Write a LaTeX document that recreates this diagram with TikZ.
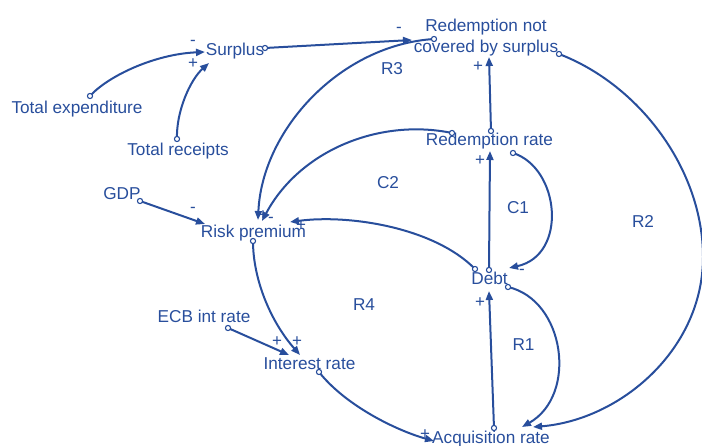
\documentclass[tikz,border=0pt]{standalone}
\usepackage{fontspec}
\setmainfont{Liberation Sans}
\usetikzlibrary{arrows.meta}
\definecolor{vblue}{RGB}{40,78,156}
\begin{document}
\begin{tikzpicture}[x=1pt,y=-1pt,
  var/.style={anchor=base,inner sep=0pt,text=vblue,align=center,
    font=\fontsize{17.2}{21}\selectfont},
  looplabel/.style={var},
  sign/.style={inner sep=0pt,text=vblue,font=\fontsize{17}{20}\selectfont},
  link/.style={draw=vblue,line width=2pt,
    -{Triangle[length=9pt,width=7pt]}},
  tailmark/.style={draw=vblue,fill=white,line width=1.1pt}
]
\useasboundingbox (0,0) rectangle (702,446);

% variables
\node[var] (te)   at (77,114)  {Total expenditure};
\node[var] (tr)   at (178,156) {Total receipts};
\node[var] (sur)  at (235,56)  {Surplus};
\node[var] (rnc)  at (486,53)  {Redemption not\\covered by surplus};
\node[var] (rr)   at (489.5,146) {Redemption rate};
\node[var] (gdp)  at (122,200) {GDP};
\node[var] (rp)   at (253.5,238) {Risk premium};
\node[var] (debt) at (489.5,285) {Debt};
\node[var] (ecb)  at (204,323) {ECB int rate};
\node[var] (ir)   at (309.5,370) {Interest rate};
\node[var] (acq)  at (491,443) {Acquisition rate};

% loop labels
\node[looplabel] (l-r3) at (392,75)  {R3};
\node[looplabel] (l-c2) at (388,189) {C2};
\node[looplabel] (l-c1) at (518,214) {C1};
\node[looplabel] (l-r2) at (643,228) {R2};
\node[looplabel] (l-r4) at (364,311) {R4};
\node[looplabel] (l-r1) at (523.5,351) {R1};

% link end points
\coordinate (te-o)    at (90,96);   \coordinate (sur-i1)  at (205,52);
\coordinate (tr-o)    at (177,139); \coordinate (sur-i2)  at (209,63);
\coordinate (sur-o)   at (265,48);  \coordinate (rnc-i1)  at (412,40);
\coordinate (rnc-o1)  at (434,39);  \coordinate (rp-i1)   at (258,220);
\coordinate (rr-o1)   at (452,133); \coordinate (rp-i2)   at (262,221);
\coordinate (debt-o1) at (475,269); \coordinate (rp-i3)   at (290,222);
\coordinate (gdp-o)   at (140,201); \coordinate (rp-i4)   at (205,224);
\coordinate (rp-o)    at (253,241); \coordinate (ir-i1)   at (300,355);
\coordinate (ecb-o)   at (228,328); \coordinate (ir-i2)   at (289,355);
\coordinate (ir-o)    at (319,372); \coordinate (acq-i1)  at (434,441);
\coordinate (acq-o)   at (494,428); \coordinate (debt-i1) at (489,291);
\coordinate (debt-o2) at (508,287); \coordinate (acq-i2)  at (522,427);
\coordinate (rnc-o2)  at (559,54);  \coordinate (acq-i3)  at (533,427);
\coordinate (debt-o3) at (489,270); \coordinate (rr-i1)   at (490,151);
\coordinate (rr-o2)   at (513,153); \coordinate (debt-i2) at (509,268);
\coordinate (rr-o3)   at (491,131); \coordinate (rnc-i2)  at (489,57);
\coordinate (r2-far)  at (703,257);

% causal links
\draw[link] (te-o) .. controls (108,76) and (155,54) .. (sur-i1);
\draw[link] (tr-o) .. controls (176,112) and (190,80) .. (sur-i2);
\draw[link] (sur-o) -- (rnc-i1);
\draw[link] (rnc-o1) .. controls (340,45) and (262,130) .. (rp-i1);
\draw[link] (rr-o1) .. controls (380,118) and (300,150) .. (rp-i2);
\draw[link] (debt-o1) .. controls (435,228) and (350,214) .. (rp-i3);
\draw[link] (gdp-o) -- (rp-i4);
\draw[link] (rp-o) .. controls (253,280) and (271,322) .. (ir-i1);
\draw[link] (ecb-o) -- (ir-i2);
\draw[link] (ir-o) .. controls (345,405) and (395,430) .. (acq-i1);
\draw[link] (acq-o) -- (debt-i1);
\draw[link] (debt-o2) .. controls (565,300) and (578,395) .. (acq-i2);
\draw[link] (rnc-o2) .. controls (640,85) and (703,170) .. (r2-far)
            .. controls (703,350) and (620,420) .. (acq-i3);
\draw[link] (debt-o3) -- (rr-i1);
\draw[link] (rr-o2) .. controls (560,168) and (568,255) .. (debt-i2);
\draw[link] (rr-o3) -- (rnc-i2);

% link tails
\foreach \c in {te-o,tr-o,sur-o,rnc-o1,rr-o1,debt-o1,gdp-o,rp-o,ecb-o,
                ir-o,acq-o,debt-o2,rnc-o2,debt-o3,rr-o2,rr-o3}
  \draw[tailmark] (\c) circle (2.6pt);

% polarities
\node[sign] (s1)  at (193,43)  {-};
\node[sign] (s2)  at (193,64)  {+};
\node[sign] (s3)  at (399,30)  {-};
\node[sign] (s4)  at (478,67)  {+};
\node[sign] (s5)  at (480,161) {+};
\node[sign] (s6)  at (522,272) {-};
\node[sign] (s7)  at (263,216) {+};
\node[sign] (s8)  at (271,220) {-};
\node[sign] (s9)  at (301,226) {+};
\node[sign] (s10) at (193,210) {-};
\node[sign] (s11) at (277,342) {+};
\node[sign] (s12) at (297,342) {+};
\node[sign] (s13) at (425,435) {+};
\node[sign] (s14) at (480,303) {+};
\end{tikzpicture}
\end{document}
